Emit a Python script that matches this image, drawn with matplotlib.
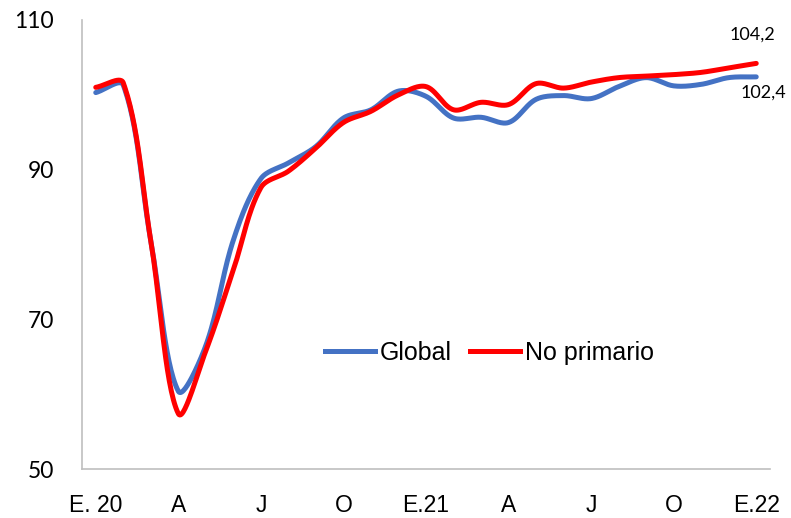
import numpy as np
import matplotlib
matplotlib.use("Agg")
import matplotlib.pyplot as plt
from matplotlib.lines import Line2D

# monthly index, Jan 2020 .. Jan 2022
months = list(range(25))
tick_labels = ["E. 20", "A", "J", "O", "E.21", "A", "J", "O", "E.22"]

global_vals = [100.3, 101.3, 80.5, 60.4, 66.5, 80.6, 88.8, 90.9, 93.1, 96.9, 98.0, 100.5,
               99.8, 96.9, 97.0, 96.3, 99.4, 99.9, 99.5, 101.1, 102.3, 101.2, 101.4, 102.3, 102.4]
no_primario = [101.0, 101.6, 80.5, 57.4, 65.8, 76.6, 87.6, 89.8, 92.9, 96.3, 97.8, 100.0,
               101.1, 98.0, 99.0, 98.7, 101.5, 100.9, 101.7, 102.3, 102.5, 102.7, 103.0, 103.6, 104.2]


def smooth(x, y, sx=27.5, sy=7.475, n=30):
    # bezier smoothing in screen-like units, control arms split by segment length
    P = np.column_stack([np.asarray(x, float) * sx, np.asarray(y, float) * sy])
    N = len(P)
    before = P.copy()
    after = P.copy()
    for i in range(N):
        if i == 0:
            after[i] = P[0] + (P[1] - P[0]) / 3
            continue
        if i == N - 1:
            before[i] = P[i] - (P[i] - P[i - 1]) / 3
            continue
        d = P[i + 1] - P[i - 1]
        lp = np.hypot(*(P[i] - P[i - 1]))
        ln = np.hypot(*(P[i + 1] - P[i]))
        before[i] = P[i] - d * lp / (lp + ln) / 3
        after[i] = P[i] + d * ln / (lp + ln) / 3
    t = np.linspace(0, 1, n, endpoint=False)[:, None]
    pts = []
    for i in range(N - 1):
        p0, c1, c2, p3 = P[i], after[i], before[i + 1], P[i + 1]
        pts.append((1 - t) ** 3 * p0 + 3 * (1 - t) ** 2 * t * c1 + 3 * (1 - t) * t ** 2 * c2 + t ** 3 * p3)
    pts.append(P[-1:])
    pts = np.vstack(pts)
    return pts[:, 0] / sx, pts[:, 1] / sy


narrow = ["Liberation Sans", "DejaVu Sans"]
calib = ["Lato", "DejaVu Sans"]

fig = plt.figure(figsize=(7.91, 5.18), dpi=100)
ax = fig.add_axes([82 / 791, 49 / 518, 688 / 791, 449 / 518])

blue = "#4472C4"
red = "#FF0000"

gx, gy = smooth(months, global_vals)
rx, ry = smooth(months, no_primario)
ax.plot(gx, gy, color=blue, lw=3.6, solid_capstyle="round")
ax.plot(rx, ry, color=red, lw=3.6, solid_capstyle="round")

ax.set_xlim(-0.5, 24.5)
ax.set_ylim(50, 110)
ax.set_yticks([50, 70, 90, 110])
ax.set_xticks(months[::3])
ax.set_xticklabels(tick_labels, family=narrow, fontsize=16.5)
for lab in ax.get_yticklabels():
    lab.set_fontsize(16.5)
    lab.set_family(calib)
ax.tick_params(axis="y", length=0, pad=20)
ax.tick_params(axis="x", length=0, pad=18)

for s in ["top", "right"]:
    ax.spines[s].set_visible(False)
for s in ["left", "bottom"]:
    ax.spines[s].set_color("#BFBFBF")
    ax.spines[s].set_linewidth(1.2)

ax.annotate(f"{no_primario[-1]:.1f}".replace(".", ","), (months[-1], no_primario[-1]),
            xytext=(-3, 21), textcoords="offset points", ha="center", va="center",
            fontsize=13, family=calib, annotation_clip=False)
ax.annotate(f"{global_vals[-1]:.1f}".replace(".", ","), (months[-1], global_vals[-1]),
            xytext=(5, -11), textcoords="offset points", ha="center", va="center",
            fontsize=13, family=calib, annotation_clip=False)

handles = [Line2D([], [], color=blue, lw=3.6), Line2D([], [], color=red, lw=3.6)]
ax.legend(handles, ["Global", "No primario"], loc="center", bbox_to_anchor=(0.592, 0.258),
          ncol=2, frameon=False, handlelength=2.0, handletextpad=0.2, columnspacing=0.7,
          prop={"family": narrow, "size": 18})

fig.savefig("out.png", dpi=100)
